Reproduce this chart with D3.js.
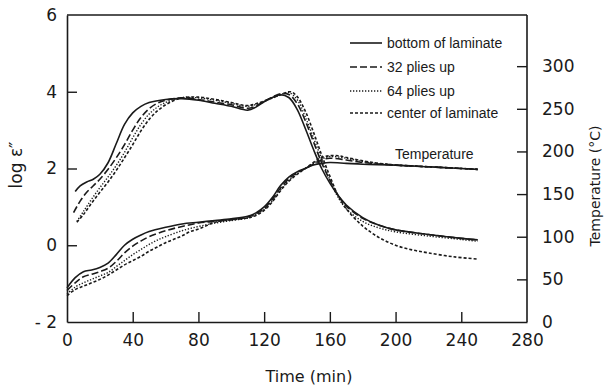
<!DOCTYPE html>
<html><head><meta charset="utf-8">
<script src="https://cdn.jsdelivr.net/npm/d3@7"></script>
<style>body{margin:0;background:#fff}svg{display:block}</style>
</head><body>
<svg id="c" width="605" height="386"></svg>
<script>
// ---- data ----
const seriesNames = ["bottom of laminate", "32 plies up", "64 plies up", "center of laminate"];
const dashes = [null, "7,3", "1.3,1.7", "3,2"];

// log e'' curves [time, value]
const epsBottom = [[5,1.4],[8,1.55],[12,1.65],[16,1.72],[20,1.85],[25,2.15],[30,2.65],[35,3.15],[40,3.45],[45,3.62],[50,3.72],[60,3.8],[70,3.82],[80,3.78],[90,3.7],[100,3.62],[110,3.52],[115,3.6],[120,3.74],[125,3.85],[130,3.92],[135,3.85],[140,3.55],[145,3.05],[150,2.5],[155,2.0],[160,1.62],[165,1.3],[170,1.05],[180,0.72],[190,0.52],[200,0.4],[220,0.28],[240,0.18],[250,0.14]];
const eps32 = [[4,0.85],[8,1.15],[12,1.38],[16,1.55],[20,1.72],[25,1.98],[30,2.28],[35,2.62],[40,3.0],[45,3.33],[50,3.56],[55,3.7],[60,3.78],[70,3.84],[80,3.8],[90,3.73],[100,3.66],[110,3.57],[115,3.63],[120,3.75],[125,3.86],[130,3.95],[135,3.93],[140,3.7],[145,3.25],[150,2.7],[155,2.15],[160,1.7],[165,1.3],[170,1.02],[180,0.7],[190,0.52],[200,0.4],[220,0.28],[240,0.18],[250,0.14]];
const eps64 = [[6,0.62],[10,0.88],[15,1.2],[20,1.5],[25,1.78],[30,2.08],[35,2.42],[40,2.8],[45,3.15],[50,3.42],[55,3.6],[60,3.72],[65,3.8],[70,3.85],[80,3.84],[90,3.78],[100,3.7],[110,3.62],[120,3.75],[130,3.92],[135,3.98],[140,3.8],[145,3.35],[150,2.8],[155,2.25],[160,1.7],[165,1.25],[170,0.95],[180,0.62],[190,0.45],[200,0.35],[220,0.24],[240,0.15],[250,0.1]];
const epsCenter = [[6,0.6],[10,0.8],[15,1.1],[20,1.38],[25,1.65],[30,1.95],[35,2.28],[40,2.62],[45,2.98],[50,3.28],[55,3.5],[60,3.66],[65,3.77],[70,3.84],[80,3.86],[90,3.8],[100,3.72],[110,3.64],[120,3.76],[130,3.92],[136,4.0],[140,3.88],[145,3.5],[150,2.95],[155,2.35],[160,1.8],[165,1.3],[170,0.95],[180,0.5],[190,0.2],[200,0.0],[210,-0.12],[220,-0.2],[235,-0.3],[250,-0.36]];

// temperature curves [time, degC]
const tempBottom = [[0,40],[5,52],[10,59],[15,61],[20,64],[25,69],[30,79],[35,90],[40,97],[45,102],[50,106],[60,111],[70,115],[80,117],[90,119],[100,121],[110,124],[115,128],[120,135],[125,146],[130,160],[135,170],[140,176],[145,180],[150,184],[155,186],[160,187],[170,186],[180,185],[200,184],[220,182],[240,180],[250,179]];
const temp32 = [[0,37],[5,46],[10,53],[15,56],[20,59],[25,63],[30,71],[35,81],[40,89],[45,95],[50,100],[60,107],[70,112],[80,116],[90,118],[100,120],[110,123],[115,127],[120,133],[125,144],[130,157],[135,168],[140,175],[145,180],[150,185],[155,190],[160,192],[170,190],[180,187],[200,184],[220,182],[240,180],[250,179]];
const temp64 = [[0,33],[5,41],[10,46],[15,50],[20,54],[25,58],[30,65],[35,72],[40,79],[45,85],[50,91],[55,96],[60,100],[70,107],[80,112],[90,116],[100,119],[110,122],[115,126],[120,132],[125,142],[130,155],[135,166],[140,174],[145,180],[150,186],[155,191],[160,194],[170,192],[180,188],[200,184],[220,182],[240,180],[250,179]];
const tempCenter = [[0,31],[5,38],[10,42],[15,46],[20,50],[25,55],[30,61],[35,67],[40,72],[45,77],[50,83],[55,88],[60,93],[65,97],[70,101],[75,106],[80,109],[85,113],[90,117],[100,120],[110,122],[115,125],[120,131],[125,141],[130,154],[135,165],[140,173],[145,180],[150,187],[155,193],[160,195],[165,195],[170,193],[180,189],[190,186],[200,184],[220,182],[240,180],[250,179]];

const xTicks = [0,40,80,120,160,200,240,280];
const yLeftTicks = [-2,0,2,4,6];
const yRightTicks = [0,50,100,150,200,250,300];

// ---- layout ----
const svg = d3.select("#c");
const L = 67, R = 527, T = 15, B = 322;
const x = d3.scaleLinear().domain([0,280]).range([L,R]);
const yL = d3.scaleLinear().domain([-2,6]).range([B,T]);
const yR = d3.scaleLinear().domain([0,360]).range([B,T]);
const ink = "#1a1a1a";
const tickFont = "'DejaVu Sans', sans-serif";

// frame
svg.append("line").attr("x1",L).attr("x2",R).attr("y1",T).attr("y2",T).attr("stroke",ink).attr("stroke-width",1.6);

function styleAxis(g, hideVals){
  g.select(".domain").attr("stroke",ink).attr("stroke-width",1.6);
  g.selectAll(".tick line").attr("stroke",ink).attr("stroke-width",1.4)
    .filter(d => hideVals.includes(d)).remove();
  g.selectAll(".tick text").attr("fill",ink).style("font-family",tickFont).style("font-size","17px");
}

const gx = svg.append("g").attr("transform",`translate(0,${B})`)
  .call(d3.axisBottom(x).tickValues(xTicks).tickSizeInner(-10).tickSizeOuter(0).tickPadding(12).tickFormat(d3.format("d")));
styleAxis(gx,[0,280]);

const gl = svg.append("g").attr("transform",`translate(${L},0)`)
  .call(d3.axisLeft(yL).tickValues(yLeftTicks).tickSizeInner(-10).tickSizeOuter(0).tickPadding(10).tickFormat(d => d<0 ? "- " + Math.abs(d) : d));
styleAxis(gl,[-2,6]);

const gr = svg.append("g").attr("transform",`translate(${R},0)`)
  .call(d3.axisRight(yR).tickValues(yRightTicks).tickSizeInner(-10).tickSizeOuter(0).tickPadding(15));
gr.select(".domain").attr("d",`M0,${B}V${T}`);
styleAxis(gr,[0]);

// curves
const line = d3.line().x(d => x(d[0])).curve(d3.curveCatmullRom.alpha(0.5));
const epsSeries = [epsBottom, eps32, eps64, epsCenter];
const tempSeries = [tempBottom, temp32, temp64, tempCenter];
epsSeries.forEach((s,i) => {
  svg.append("path").datum(s).attr("fill","none").attr("stroke",ink)
    .attr("stroke-width", i===2 ? 1.4 : 1.6).attr("stroke-dasharray",dashes[i])
    .attr("d", line.y(d => yL(d[1])));
});
tempSeries.forEach((s,i) => {
  svg.append("path").datum(s).attr("fill","none").attr("stroke",ink)
    .attr("stroke-width", i===2 ? 1.4 : 1.6).attr("stroke-dasharray",dashes[i])
    .attr("d", line.y(d => yR(d[1])));
});

// legend
const legFont = "'Liberation Sans', Arial, sans-serif";
const legY = [43,67,91,113];
seriesNames.forEach((n,i) => {
  svg.append("line").attr("x1",350).attr("x2",382).attr("y1",legY[i]).attr("y2",legY[i])
    .attr("stroke",ink).attr("stroke-width", i===2 ? 1.4 : 1.6).attr("stroke-dasharray",dashes[i]);
  svg.append("text").attr("x",387).attr("y",legY[i]+5).text(n)
    .style("font-family",legFont).style("font-size","14px").attr("fill",ink);
});
svg.append("text").attr("x",395).attr("y",159).text("Temperature")
  .style("font-family",legFont).style("font-size","14px").attr("fill",ink);

// axis titles
svg.append("text").attr("x",309).attr("y",382).attr("text-anchor","middle").text("Time (min)")
  .style("font-family",tickFont).style("font-size","16px").attr("fill",ink);
svg.append("text").attr("transform","translate(22,165) rotate(-90)").attr("text-anchor","middle").text("log ε″")
  .style("font-family",tickFont).style("font-size","17px").attr("fill",ink);
svg.append("text").attr("transform","translate(600,186) rotate(-90)").attr("text-anchor","middle").text("Temperature (°C)")
  .style("font-family",tickFont).style("font-size","14px").attr("fill",ink);
</script>
</body></html>
